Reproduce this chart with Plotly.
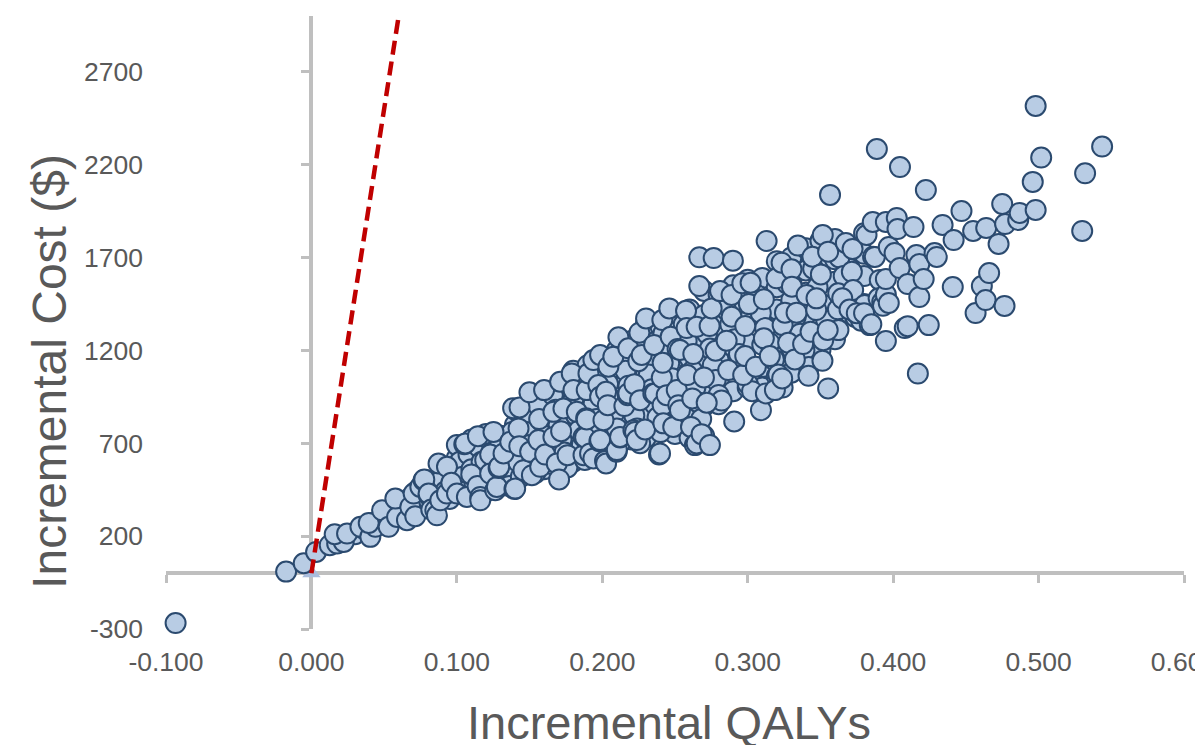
import plotly.graph_objects as go

# Deepest layer of the dense band, read column by column
fill_qaly = [.08,.09,.10,.11,.12,.13,.14,.15,.16,.17,.18,.19,.20,.21,.22,.23,.24,.25,.26,.27,.28,.29,.30,.31,.32,.33,.34,.35,.36,.37,.38]
fill_cost = [[360,440,500],[420,480,560],[430,520,620,690],[440,540,640,720],[480,570,670,750],[470,560,650,740],
             [500,600,700,800,880],[540,640,730,830,920],[560,650,750,850,950],[590,690,790,890,1000],
             [600,700,800,900,1010,1090],[620,720,820,920,1030,1120],[630,740,850,950,1060,1130],[680,790,890,1000,1110,1200],
             [720,830,940,1050,1150,1250],[730,850,960,1070,1180,1290,1340],[780,890,1000,1110,1220,1330],[750,870,980,1100,1210,1320,1400],
             [730,850,970,1090,1210,1330,1420],[740,900,1020,1140,1260,1380,1520],[910,1030,1150,1270,1390,1500],[980,1100,1220,1340,1460,1550],
             [1000,1120,1240,1360,1480,1580],[1000,1110,1230,1350,1470,1590],[1060,1180,1300,1420,1540,1680],[1080,1210,1330,1450,1570,1700],
             [1150,1270,1390,1510,1630,1750],[1200,1320,1440,1560,1680,1790],[1330,1450,1570,1690,1800],[1400,1520,1640,1760],[1450,1600,1720,1830]]
tail_qaly = [.03,.036,.042,.048,.052,.056,.06,.064,.068,.072]
tail_cost = [210,240,270,290,330,300,385,350,400,440]

# Underlying points of the dense band
qaly_back = [.062,.067,.071,.075,.079,.083,.086,.09,.092,.095,.098,.10,.102,.104,.106,.108,.11,.112,.115,.117,.119,.12,.122,.124,.126,.128,.13,.132,.134,.136,.138,.14,.142,.144,.146,.148,.15,.152,.154,.156,.158,.16,.162,.164,.166,.168,.17,.172,.174,.176,.178,.18,.182,.184,.186,.188,.19,.192,.194,.196,.198,.2,.202,.204,.206,.208,.21,.212,.214,.216,.218,.22,.222,.224,.226,.228,.23,.232,.234,.236,.238,.24,.242,.244,.246,.248,.25,.252,.254,.256,.258,.26,.262,.264,.266,.268,.27,.272,.274,.276,.278,.28,.282,.285,.288,.291,.294,.297,.3,.303,.306,.309,.312,.315,.318,.321,.324,.327,.33,.333,.336,.339,.342,.345,.348,.351,.354,.357,.36,.363,.366,.37,.374,.378]
cost_back = [330,400,360,430,380,470,420,510,440,400,540,470,600,520,440,640,560,490,680,600,530,440,720,650,580,500,700,620,550,470,760,680,600,520,840,760,690,610,540,900,820,740,660,590,960,880,800,720,650,570,1010,930,850,770,690,610,1060,990,910,830,750,670,1100,1020,940,860,780,700,1180,1090,1010,930,850,780,700,1230,1150,1070,990,910,840,760,1290,1210,1130,1050,970,890,810,1340,1250,1160,1090,1000,920,830,1390,1290,1210,1120,1040,960,930,1420,1340,1260,1180,1100,1020,980,1500,1400,1320,1240,1150,1070,1000,1560,1470,1380,1290,1200,1110,1640,1540,1450,1360,1270,1260,1700,1600,1480,1380,1360]

# Lower-left tail and lower band, read individually
qaly_low = [-.0934,-.0174,-.0053,.0032,.0126,.0177,.0222,.0160,.0245,.0337,.0405,.0440,.0394,.0486,.0531,.0589,.0577,.0657,.0680,.0703,.0714,.0749,.0771,.0776,.0806,.0806,.0824,.0852,.0863,.0874,.0886,.0932,.0932,.0962,.1001,.1051,.1058,.1069,.1099,.1142,.1145,.1161,.1161,.1195,.1229,.1229,.1252,.1264,.1275,.1287,.1291,.1321,.1367,.1396,.1401,.1424,.1429,.1458,.1504,.1516,.1561,.1573,.1607,.1664,.1687,.1703]
cost_low = [-268,9,54,115,151,160,169,210,214,250,196,250,271,339,250,303,402,286,357,429,307,465,501,505,420,429,343,339,312,591,393,429,573,487,429,695,699,411,532,470,738,411,393,609,639,537,761,447,465,567,573,645,708,453,456,780,684,555,654,528,717,573,639,734,591,505]

# Middle of the band
qaly_mid = [.1387,.1431,.1499,.1566,.1600,.1664,.1710,.1717,.1733,.1761,.1790,.1802,.1825,.1871,.1871,.1882,.1889,.1893,.1893,.1905,.1916,.1939,.1939,.1973,.1980,.1985,.1985,.1985,.1985,.2008,.2019,.2026,.2026,.2038,.2042,.2076,.2099,.2100,.2111,.2122,.2122,.2152,.2175,.2179,.2179,.2214,.2221,.2225,.2237,.2248,.2255,.2260,.2271,.2294,.2301,.2351,.2356,.2363,.2390,.2397,.2409,.2413,.2415,.2415,.2420,.2443,.2461,.2470,.2488,.2512,.2518,.2523]
cost_mid = [889,893,974,830,986,869,1031,765,887,636,1076,986,869,636,734,731,834,828,986,1076,645,618,1148,1013,711,713,950,1175,717,824,605,977,591,905,1112,1166,654,663,1270,731,734,900,959,1211,968,770,1018,761,717,1142,1295,932,1175,774,1372,968,1229,968,639,645,1053,1363,1133,905,807,959,1426,1273,788,986,1207,905]

# Upper part of the band and the outliers
qaly_high = [.2534,.2534,.2576,.2580,.2585,.2610,.2619,.2626,.2637,.2649,.2649,.2667,.2667,.2683,.2699,.2718,.2738,.2740,.2752,.2766,.2779,.2810,.2855,.2866,.2889,.2889,.2898,.2907,.2963,.2969,.2983,.2983,.3008,.3020,.3056,.3091,.3111,.3111,.3125,.3130,.3152,.3187,.3198,.3233,.3237,.3240,.3256,.3278,.3301,.3304,.3324,.3336,.3345,.3381,.3405,.3418,.3432,.3445,.3471,.3473,.3503,.3514,.3516,.3519,.3553,.3553,.3566,.3620,.3622,.3624,.3675,.3716,.3721,.3725,.3743,.3805,.3817,.3839,.3862,.3874,.3908]
cost_high = [1202,878,1413,1320,1067,788,941,1180,690,1327,699,1701,1546,749,1054,918,1331,690,1426,1697,1198,1519,1252,1094,1498,1381,1683,817,1561,1067,1331,1169,1449,1564,1112,878,1475,1265,968,1789,1169,986,1588,1672,1049,1336,1403,1241,1636,1543,1151,1403,1764,1234,1498,1063,1300,1704,1417,1480,1609,1144,1821,1255,1731,995,2037,1421,1507,1309,1778,1623,1746,1525,1403,1444,1821,1336,1704,1703,1579]
qaly_far = [.3550,.3650,.3700,.3750,.3800,.3850,.3900,.3925,.3930,.3950,.3950,.4080,.4100,.4170,.3860,.3950,.3950,.3970,.3970,.4010,.4025,.4030,.4045,.4047,.3888,.4100,.4140,.4160,.4180,.4180,.4210,.4225,.4245,.4285,.4300,.4340,.4416,.4410,.4470,.4550,.4567,.4610,.4636,.4640,.4660,.4725,.4750,.4766,.4770,.4860,.4870,.4960,.4980,.4980,.5018,.5300,.5320,.5437]
cost_far = [1310,1480,1420,1400,1400,1340,1480,1460,1440,1500,1250,1320,1330,1075,1891,1891,1584,1455,1756,1724,1913,1853,1643,2187,2284,1557,1864,1713,1665,1487,1584,2063,1336,1724,1703,1875,1794,1541,1950,1843,1401,1546,1471,1859,1616,1773,1988,1439,1880,1902,1940,2107,1956,2516,2238,1843,2153,2297]

fill_x = [q for q, col in zip(fill_qaly, fill_cost) for _ in col]
fill_y = [c for col in fill_cost for c in col]
qaly_values = fill_x + tail_qaly + qaly_back + qaly_low + qaly_mid + qaly_high + qaly_far
cost_values = fill_y + tail_cost + cost_back + cost_low + cost_mid + cost_high + cost_far

threshold_qaly = [0, 0.06]
threshold_cost = [0, 3000]
origin_qaly = [0]
origin_cost = [0]

x_ticks = [-0.1, 0, 0.1, 0.2, 0.3, 0.4, 0.5, 0.6]
x_labels = ["-0.100", "0.000", "0.100", "0.200", "0.300", "0.400", "0.500", "0.600"]
y_ticks = [-300, 200, 700, 1200, 1700, 2200, 2700]
y_labels = ["-300", "200", "700", "1200", "1700", "2200", "2700"]

GREY = "#bfbfbf"
TEXT = "#595959"
FONT = "Liberation Sans"

fig = go.Figure()
# Base axes only carry the tick labels at the chart's edges
fig.add_trace(go.Scatter(x=[0], y=[0], mode="markers", showlegend=False, marker=dict(opacity=0), hoverinfo="skip"))
fig.add_trace(go.Scatter(x=origin_qaly, y=origin_cost, xaxis="x2", yaxis="y2", mode="markers", showlegend=False,
    marker=dict(symbol="triangle-up", size=16, color="#a9bcdc"), cliponaxis=False))
fig.add_trace(go.Scatter(x=qaly_values, y=cost_values, xaxis="x2", yaxis="y2", mode="markers", showlegend=False,
    marker=dict(size=20, color="#b8cce4", line=dict(color="#2b4a6f", width=2)), cliponaxis=False))
fig.add_trace(go.Scatter(x=threshold_qaly, y=threshold_cost, xaxis="x2", yaxis="y2", mode="lines", showlegend=False,
    line=dict(color="#c00000", width=4.5, dash="14px,7px")))

tick_font = dict(family=FONT, size=26.5, color=TEXT)
fig.update_layout(
    width=1195, height=737, margin=dict(l=158, r=19, t=8, b=116, autoexpand=False),
    paper_bgcolor="white", plot_bgcolor="white", showlegend=False,
    xaxis=dict(range=[-0.1, 0.6], tickvals=x_ticks, ticktext=x_labels, showgrid=False, zeroline=False,
               showline=False, ticks="", tickfont=tick_font, ticklabelstandoff=14, ticklabeloverflow="allow", automargin=False),
    yaxis=dict(range=[-300, 3000], tickvals=y_ticks, ticktext=y_labels, showgrid=False, zeroline=False,
               showline=False, ticks="", tickfont=tick_font, ticklabelstandoff=22, automargin=False),
    xaxis2=dict(range=[-0.1, 0.6], overlaying="x", anchor="free", position=300/3300, side="bottom",
                tickvals=x_ticks, showticklabels=False, showgrid=False, zeroline=False, showline=True,
                linecolor=GREY, linewidth=4, ticks="outside", ticklen=8, tickwidth=3, tickcolor=GREY,
                layer="below traces"),
    yaxis2=dict(range=[-300, 3000], overlaying="y", anchor="free", position=1/7, side="left",
                tickvals=y_ticks, showticklabels=False, showgrid=False, zeroline=False, showline=True,
                linecolor=GREY, linewidth=4, ticks="outside", ticklen=8, tickwidth=3, tickcolor=GREY,
                layer="below traces"),
    annotations=[
        dict(text="Incremental QALYs", xref="paper", yref="paper", x=0.494, y=-0.152, showarrow=False,
             xanchor="center", yanchor="middle", font=dict(family=FONT, size=47, color=TEXT)),
        dict(text="Incremental Cost ($)", xref="paper", yref="paper", x=-0.114, y=0.421, showarrow=False,
             textangle=-90, xanchor="center", yanchor="middle", font=dict(family=FONT, size=48, color=TEXT)),
    ],
)
fig.write_html("out.html")
